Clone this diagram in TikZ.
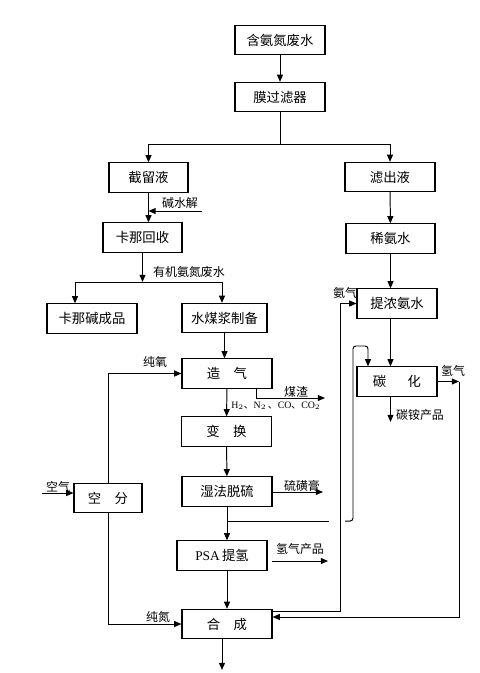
\documentclass[tikz,border=0pt]{standalone}
\usepackage{fontspec}
\setmainfont{Liberation Serif}
\newfontfamily\cjk{Noto Sans CJK SC}
\usetikzlibrary{arrows.meta, calc}

\tikzset{
  box/.style={draw, line width=0.8pt, minimum width=2.25cm, minimum height=0.73cm,
    inner sep=0pt, font=\cjk\fontsize{9.5}{11}\selectfont},
  pipe/.style={line width=0.7pt},
  flow/.style={pipe, -{Triangle[length=1.8mm, width=1.5mm]}},
  tag/.style={inner sep=0pt, font=\cjk\fontsize{8.5}{10}\selectfont}
}

\begin{document}
\begin{tikzpicture}[x=0.025cm, y=-0.025cm]
\useasboundingbox (0,0) rectangle (480,673);

% membrane stage
\node[box] (water) at (280,40) {含氨氮废水};
\node[box] (filter) at (280,97) {膜过滤器};
\node[box, minimum width=1.975cm] (retain) at (148.5,177.5) {截留液};
\node[box] (filtrate) at (390,177) {滤出液};

% kana branch
\node[box, minimum width=1.975cm] (kana) at (142.5,237.5) {卡那回收};
\node[box] (kanaprod) at (92,318.5) {卡那碱成品};
\node[box, minimum width=2.125cm] (slurry) at (224.5,318) {水煤浆制备};

% ammonia water branch
\node[box, minimum width=2.225cm] (dilute) at (390.5,238.5) {稀氨水};
\node[box, minimum width=2cm] (conc) at (397,303.5) {提浓氨水};
\node[box, minimum width=2cm] (carb) at (397,381.5) {碳\hspace{1.6em}化};

% gas line
\node[box] (gasif) at (227,373.5) {造\hspace{1em}气};
\node[box] (shift) at (226.5,431.5) {变\hspace{1em}换};
\node[box] (desulf) at (227,491.5) {湿法脱硫};
\node[box, minimum width=1.7cm] (airsep) at (108,498) {空\hspace{1em}分};
\node[box] (psa) at (222,555.5) {{\rmfamily PSA}\,提氢};
\node[box] (synth) at (227,624) {合\hspace{1em}成};

% free ends and turns
\coordinate (split) at (280,144);
\coordinate (alkali) at (202,211);
\coordinate (orgsplit) at (142.5,282);
\coordinate (orgleft) at (75,282);
\coordinate (orgright) at (222,282);
\coordinate (slagturn) at (256,398);
\coordinate (slagend) at (325,398);
\coordinate (sulfend) at (323,492);
\coordinate (co2tap) at (227,521);
\coordinate (co2gap) at (329,521);
\coordinate (co2back) at (345,521);
\coordinate (co2rise) at (353,521);
\coordinate (co2drop) at (368,346);
\coordinate (h2start) at (272,561);
\coordinate (h2end) at (328,561);
\coordinate (airin) at (42,493);
\coordinate (outlet) at (222,670);
\coordinate (nh3turn) at (340,611);
\coordinate (h2turn) at (459,617);
\coordinate (abcend) at (390.5,422);

% connectors
\draw[flow] (water) -- (filter);
\draw[pipe] (filter) -- (split);
\draw[flow] (split) -| (retain);
\draw[flow] (split) -| (filtrate);
\draw[flow] (retain.south) -- (retain.south |- kana.north);
\draw[flow] (alkali) -- (alkali -| retain.south);
\draw[flow] (kana) -- (orgsplit);
\draw[pipe] (orgleft) -- (orgright);
\draw[flow] (orgleft) -- (orgleft |- kanaprod.north);
\draw[flow] (orgright) -- (orgright |- slurry.north);

\draw[flow] (filtrate) -- (dilute);
\draw[flow] (dilute) -- (dilute |- conc.north);
\draw[flow] (conc.south -| dilute) -- (carb.north -| dilute);
\draw[flow] (carb.south -| dilute) -- (abcend);

\draw[flow] (slurry.south) -- (slurry.south |- gasif.north);
\draw[flow] (gasif) -- (shift);
\draw[flow] (slagturn |- gasif.south) -- (slagturn) -- (slagend);
\draw[flow] (shift) -- (desulf);
\draw[flow] (desulf.east |- sulfend) -- (sulfend);
\draw[flow] (desulf.south -| co2tap) -- (co2tap |- psa.north);
\draw[pipe] (co2tap) -- (co2gap);
\draw[flow, rounded corners=2pt] (co2back) -- (co2rise) |- (co2drop) -- (co2drop |- carb.north);
\draw[flow] (h2start) -- (h2end);
\draw[flow] (psa.south -| co2tap) -- (co2tap |- synth.north);

\draw[flow] (airin) -- (airin -| airsep.west);
\draw[flow] (airsep.north) |- (gasif.west);
\draw[flow] (airsep.south) |- (synth.west);
\draw[flow] (synth.south -| outlet) -- (outlet);

\draw[flow] (nh3turn -| synth.east) -- (nh3turn) |- (conc.west);
\draw[flow] (carb.east) -- (carb.east -| h2turn);
\draw[flow] (carb.east -| h2turn) -- (h2turn) -- (h2turn -| synth.east);

% labels
\node[tag] (lalkali) at (180,203) {碱水解};
\node[tag] (lorg) at (189,272) {有机氨氮废水};
\node[tag] (loxy) at (155,362) {纯氧};
\node[tag, anchor=west, font=\rmfamily\fontsize{7}{8}\selectfont] (lgas) at (231,406)
  {H$_2${\cjk 、}N$_2$\,{\cjk 、}CO{\cjk 、}CO$_2$};
\node[tag] (lslag) at (296,392) {煤渣};
\node[tag] (lsulf) at (302,486) {硫磺膏};
\node[tag] (lair) at (58,487) {空气};
\node[tag] (lh2prod) at (300,549) {氢气产品};
\node[tag] (lnit) at (158,617) {纯氮};
\node[tag] (lnh3) at (345,293) {氨气};
\node[tag] (lh2) at (453,371) {氢气};
\node[tag] (labc) at (420,415) {碳铵产品};
\end{tikzpicture}
\end{document}
